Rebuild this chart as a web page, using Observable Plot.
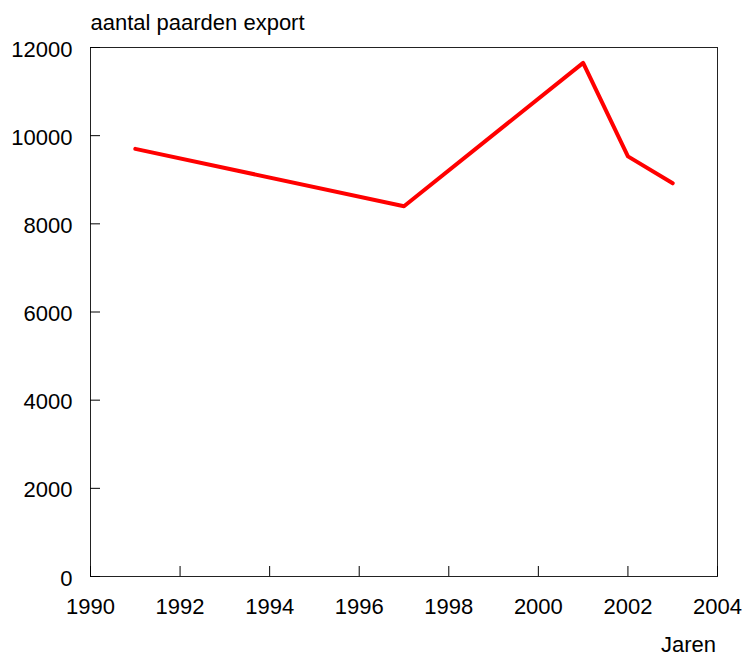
<!DOCTYPE html>
<html>
<head>
<meta charset="utf-8">
<script src="https://cdn.jsdelivr.net/npm/d3@7"></script>
<script src="https://cdn.jsdelivr.net/npm/@observablehq/plot@0.6"></script>
<style>
  html, body { margin: 0; padding: 0; background: #fff; }
</style>
</head>
<body>
<div id="chart"></div>
<script>
const years = [1991, 1997, 2001, 2002, 2003];
const exportCounts = [9700, 8400, 11650, 9530, 8920];
const xTicks = [1990, 1992, 1994, 1996, 1998, 2000, 2002, 2004];
const yTicks = [0, 2000, 4000, 6000, 8000, 10000, 12000];
const yTitle = "aantal paarden export";
const xTitle = "Jaren";

const data = years.map((y, i) => ({year: y, value: exportCounts[i]}));

const chart = Plot.plot({
  width: 746,
  height: 657,
  marginLeft: 90,
  marginRight: 29,
  marginTop: 47,
  marginBottom: 81,
  style: {fontFamily: "Liberation Sans, Arial, sans-serif", fontSize: "22px", color: "#000", background: "#fff"},
  x: {domain: [1990, 2004]},
  y: {domain: [0, 12000]},
  marks: [
    Plot.frame({stroke: "#222"}),
    Plot.axisX({ticks: xTicks, tickFormat: d => String(d), tickSize: -10, tickPadding: 32, label: null, fontSize: 22}),
    Plot.axisY({ticks: yTicks, tickFormat: () => "", tickSize: -10, label: null}),
    Plot.axisY({ticks: yTicks, tickFormat: d => String(d), tickSize: 0, tickPadding: 18, label: null, fontSize: 22, dy: 2}),
    Plot.line(data, {x: "year", y: "value", stroke: "#ff0000", strokeWidth: 4}),
    Plot.text([yTitle], {frameAnchor: "top-left", lineAnchor: "middle", dy: -25, textAnchor: "start", fontSize: 22, fill: "#000"}),
    Plot.text([xTitle], {frameAnchor: "bottom-right", lineAnchor: "middle", dy: 68, dx: -29, textAnchor: "middle", fontSize: 22, fill: "#000"})
  ]
});
document.getElementById("chart").appendChild(chart);
</script>
</body>
</html>
